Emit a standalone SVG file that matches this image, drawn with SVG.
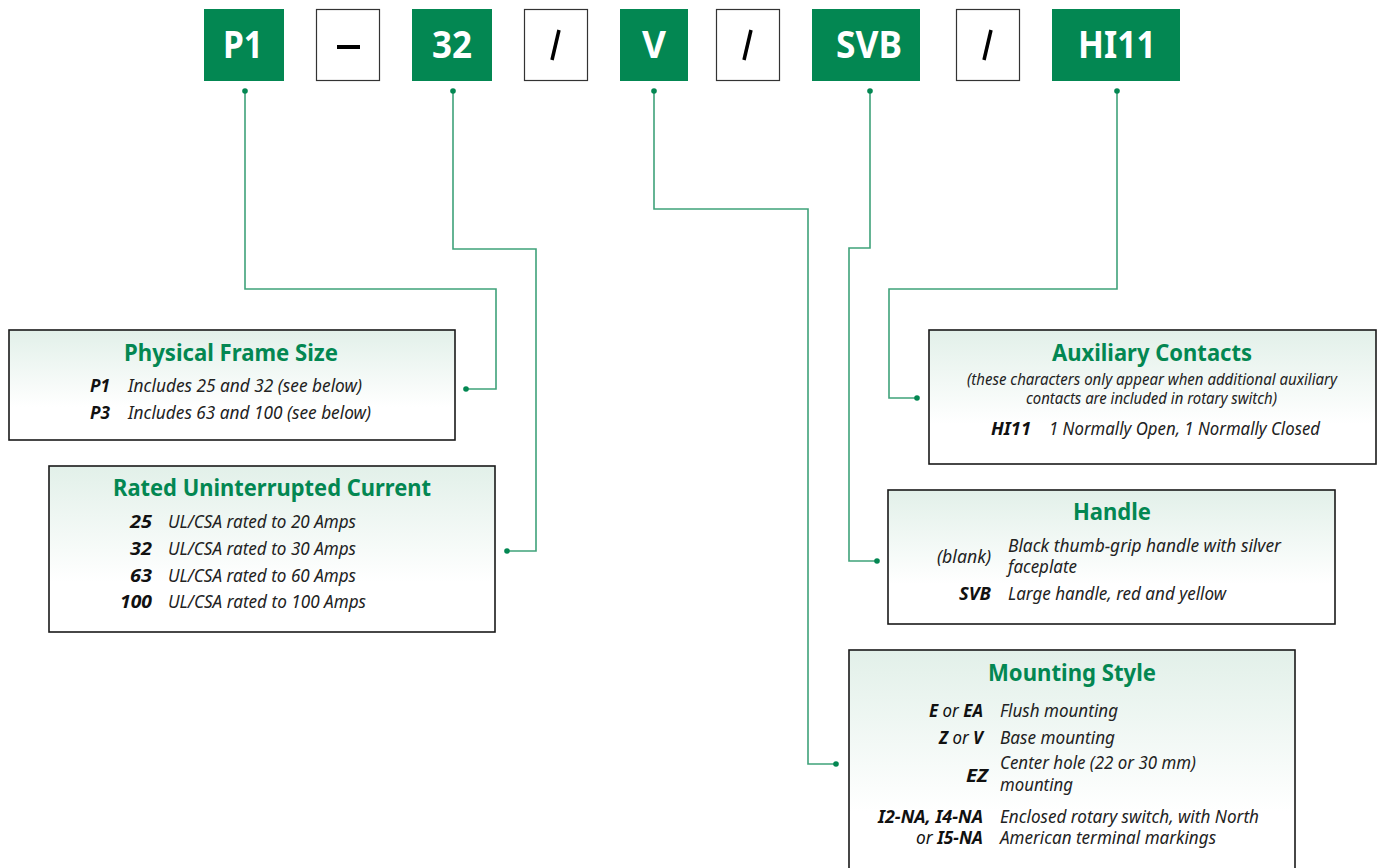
<svg xmlns="http://www.w3.org/2000/svg" width="1381" height="868" viewBox="0 0 1381 868">
<defs>
<linearGradient id="bg" x1="0" y1="0" x2="0" y2="1">
<stop offset="0" stop-color="#e2f0e9"/>
<stop offset="0.7" stop-color="#ffffff"/>
</linearGradient>
</defs>
<style>
.gbox{fill:#038752}
.wbox{fill:#fff;stroke:#333;stroke-width:1.2}
.code{font-family:"Noto Sans","Open Sans",sans-serif;font-weight:700;font-size:37px;fill:#fff;text-anchor:start}
.sep{font-family:"Noto Sans",sans-serif;font-weight:700;font-size:36px;fill:#000}
.panel{fill:url(#bg);stroke:#1a1a1a;stroke-width:1.6}
.title{font-family:"Noto Sans","Open Sans",sans-serif;font-weight:700;font-size:24px;fill:#038752}
.lab{font-family:"Noto Sans","Open Sans",sans-serif;font-weight:700;font-style:italic;font-size:18px;fill:#111}
.desc{font-family:"Noto Sans","Open Sans",sans-serif;font-style:italic;font-size:18px;fill:#222}
.sub{font-family:"Noto Sans","Open Sans",sans-serif;font-style:italic;font-size:15.5px;fill:#222}
.or{font-weight:400}
.wire{fill:none;stroke:#3fa27a;stroke-width:1.6}
.dot{fill:#038752}
</style>

<g id="code-P1"><rect class="gbox" x="204" y="9" width="80" height="72"/><text class="code" x="223" y="58" textLength="40" lengthAdjust="spacingAndGlyphs">P1</text></g>
<g id="sep-dash"><rect class="wbox" x="316.5" y="9.5" width="63" height="71"/><rect x="337" y="45" width="23" height="4" fill="#000"/></g>
<g id="code-32"><rect class="gbox" x="412" y="9" width="80" height="72"/><text class="code" x="432" y="58" textLength="40" lengthAdjust="spacingAndGlyphs">32</text></g>
<g id="sep-slash1"><rect class="wbox" x="524.5" y="9.5" width="63" height="71"/><path d="M559,30 L552,60" stroke="#000" stroke-width="3.5"/></g>
<g id="code-V"><rect class="gbox" x="620" y="9" width="68" height="72"/><text class="code" x="642" y="58" textLength="24" lengthAdjust="spacingAndGlyphs">V</text></g>
<g id="sep-slash2"><rect class="wbox" x="716.5" y="9.5" width="63" height="71"/><path d="M751,30 L744,60" stroke="#000" stroke-width="3.5"/></g>
<g id="code-SVB"><rect class="gbox" x="812" y="9" width="108" height="72"/><text class="code" x="836" y="58" textLength="66" lengthAdjust="spacingAndGlyphs">SVB</text></g>
<g id="sep-slash3"><rect class="wbox" x="956.5" y="9.5" width="63" height="71"/><path d="M991,30 L984,60" stroke="#000" stroke-width="3.5"/></g>
<g id="code-HI11"><rect class="gbox" x="1052" y="9" width="128" height="72"/><text class="code" x="1078" y="58" textLength="78" lengthAdjust="spacingAndGlyphs">HI11</text></g>

<g id="connectors">
<polyline class="wire" points="245,91 245,289 496,289 496,389 466,389"/>
<polyline class="wire" points="453,91 453,249 536,249 536,551 507,551"/>
<polyline class="wire" points="654,91 654,209 808,209 808,764 836,764"/>
<polyline class="wire" points="870,91 870,248 849,248 849,561 877,561"/>
<polyline class="wire" points="1117,91 1117,289 889,289 889,398 917,398"/>
<circle class="dot" cx="245" cy="91" r="2.8"/><circle class="dot" cx="466" cy="389" r="2.8"/>
<circle class="dot" cx="453" cy="91" r="2.8"/><circle class="dot" cx="507" cy="551" r="2.8"/>
<circle class="dot" cx="654" cy="91" r="2.8"/><circle class="dot" cx="836" cy="764" r="2.8"/>
<circle class="dot" cx="870" cy="91" r="2.8"/><circle class="dot" cx="877" cy="561" r="2.8"/>
<circle class="dot" cx="1117" cy="91" r="2.8"/><circle class="dot" cx="917" cy="398" r="2.8"/>
</g>

<g id="panel-frame">
<rect class="panel" x="9" y="330" width="446" height="110"/>
<text class="title" x="124" y="361" textLength="214" lengthAdjust="spacingAndGlyphs">Physical Frame Size</text>
<text class="lab" x="90" y="392" textLength="20" lengthAdjust="spacingAndGlyphs">P1</text>
<text class="desc" x="128" y="392" textLength="234" lengthAdjust="spacingAndGlyphs">Includes 25 and 32 (see below)</text>
<text class="lab" x="90" y="419" textLength="20" lengthAdjust="spacingAndGlyphs">P3</text>
<text class="desc" x="128" y="419" textLength="243" lengthAdjust="spacingAndGlyphs">Includes 63 and 100 (see below)</text>
</g>

<g id="panel-current">
<rect class="panel" x="49" y="466" width="446" height="166"/>
<text class="title" x="113" y="496" textLength="318" lengthAdjust="spacingAndGlyphs">Rated Uninterrupted Current</text>
<text class="lab" x="130" y="528" textLength="22" lengthAdjust="spacingAndGlyphs">25</text>
<text class="desc" x="168" y="528" textLength="188" lengthAdjust="spacingAndGlyphs">UL/CSA rated to 20 Amps</text>
<text class="lab" x="130" y="555" textLength="22" lengthAdjust="spacingAndGlyphs">32</text>
<text class="desc" x="168" y="555" textLength="188" lengthAdjust="spacingAndGlyphs">UL/CSA rated to 30 Amps</text>
<text class="lab" x="130" y="582" textLength="22" lengthAdjust="spacingAndGlyphs">63</text>
<text class="desc" x="168" y="582" textLength="188" lengthAdjust="spacingAndGlyphs">UL/CSA rated to 60 Amps</text>
<text class="lab" x="120" y="608" textLength="32" lengthAdjust="spacingAndGlyphs">100</text>
<text class="desc" x="168" y="608" textLength="198" lengthAdjust="spacingAndGlyphs">UL/CSA rated to 100 Amps</text>
</g>

<g id="panel-aux">
<rect class="panel" x="929" y="330" width="447" height="134"/>
<text class="title" x="1052" y="361" textLength="200" lengthAdjust="spacingAndGlyphs">Auxiliary Contacts</text>
<text class="sub" x="967" y="385" textLength="370" lengthAdjust="spacingAndGlyphs">(these characters only appear when additional auxiliary</text>
<text class="sub" x="1026" y="404" textLength="251" lengthAdjust="spacingAndGlyphs">contacts are included in rotary switch)</text>
<text class="lab" x="991" y="435" textLength="40" lengthAdjust="spacingAndGlyphs">HI11</text>
<text class="desc" x="1049" y="435" textLength="271" lengthAdjust="spacingAndGlyphs">1 Normally Open, 1 Normally Closed</text>
</g>

<g id="panel-handle">
<rect class="panel" x="888" y="490" width="447" height="134"/>
<text class="title" x="1073" y="520" textLength="78" lengthAdjust="spacingAndGlyphs">Handle</text>
<text class="desc" x="937" y="563" textLength="54" lengthAdjust="spacingAndGlyphs">(blank)</text>
<text class="desc" x="1008" y="552" textLength="273" lengthAdjust="spacingAndGlyphs">Black thumb-grip handle with silver</text>
<text class="desc" x="1008" y="573" textLength="69" lengthAdjust="spacingAndGlyphs">faceplate</text>
<text class="lab" x="959" y="600" textLength="32" lengthAdjust="spacingAndGlyphs">SVB</text>
<text class="desc" x="1008" y="600" textLength="218" lengthAdjust="spacingAndGlyphs">Large handle, red and yellow</text>
</g>

<g id="panel-mounting">
<rect class="panel" x="849" y="650" width="446" height="230"/>
<text class="title" x="988" y="681" textLength="168" lengthAdjust="spacingAndGlyphs">Mounting Style</text>
<text class="lab" x="929" y="717" textLength="54" lengthAdjust="spacingAndGlyphs">E <tspan class="or">or</tspan> EA</text>
<text class="desc" x="1000" y="717" textLength="118" lengthAdjust="spacingAndGlyphs">Flush mounting</text>
<text class="lab" x="939" y="744" textLength="44" lengthAdjust="spacingAndGlyphs">Z <tspan class="or">or</tspan> V</text>
<text class="desc" x="1000" y="744" textLength="115" lengthAdjust="spacingAndGlyphs">Base mounting</text>
<text class="lab" x="966" y="782" textLength="22" lengthAdjust="spacingAndGlyphs">EZ</text>
<text class="desc" x="1000" y="769" textLength="196" lengthAdjust="spacingAndGlyphs">Center hole (22 or 30 mm)</text>
<text class="desc" x="1000" y="791" textLength="73" lengthAdjust="spacingAndGlyphs">mounting</text>
<text class="lab" x="878" y="823" textLength="105" lengthAdjust="spacingAndGlyphs">I2-NA, I4-NA</text>
<text class="desc" x="1000" y="823" textLength="259" lengthAdjust="spacingAndGlyphs">Enclosed rotary switch, with North</text>
<text class="lab" x="916" y="844" textLength="67" lengthAdjust="spacingAndGlyphs"><tspan class="or">or</tspan> I5-NA</text>
<text class="desc" x="1000" y="844" textLength="216" lengthAdjust="spacingAndGlyphs">American terminal markings</text>
</g>
</svg>
